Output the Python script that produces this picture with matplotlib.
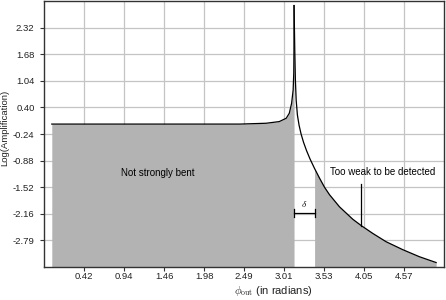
import matplotlib
matplotlib.use("Agg")
import matplotlib.pyplot as plt
import numpy as np

plt.rcParams['font.family'] = ['Liberation Sans', 'DejaVu Sans']
plt.rcParams['mathtext.fontset'] = 'cm'

# Left branch of the amplification curve (phi_out, log amplification)
left_x = [0.00, 1.27, 2.44, 2.78, 2.95, 3.04, 3.08, 3.11, 3.13, 3.138, 3.1405, 3.1416]
left_y = [0.00, 0.00, 0.00, 0.02, 0.06, 0.14, 0.26, 0.50, 0.82, 1.23, 1.78, 2.85]

# Right branch of the curve
right_x = [3.1416, 3.151, 3.159, 3.169, 3.185, 3.207, 3.233, 3.265, 3.304, 3.349,
           3.408, 3.472, 3.537, 3.602, 3.731, 3.904, 4.012, 4.163, 4.336, 4.551,
           4.767, 4.984]
right_y = [2.85, 1.78, 1.06, 0.58, 0.22, -0.03, -0.24, -0.44, -0.64, -0.84,
           -1.07, -1.30, -1.52, -1.70, -1.99, -2.29, -2.44, -2.63, -2.83, -3.02,
           -3.19, -3.33]

delta_start = 3.1416
delta_end = 3.408
marker_x = 4.012
marker_top = -1.44
marker_bottom = -2.44

x_ticklabels = ['0.42', '0.94', '1.46', '1.98', '2.49', '3.01', '3.53', '4.05', '4.57']
y_ticklabels = ['-2.79', '-2.16', '-1.52', '-0.88', '-0.24', '0.40', '1.04', '1.68', '2.32']

xlim = (-0.097, 5.09)
ylim = (-3.43, 2.96)

fig = plt.figure(figsize=(4.46, 3.0), dpi=100)
ax = fig.add_axes([44.3 / 446, 33.3 / 300, 400 / 446, 265.7 / 300])

fill_color = '#b3b3b3'
lx = np.array(left_x); ly = np.array(left_y)
rx = np.array(right_x); ry = np.array(right_y)

ax.fill_between(lx, ly, ylim[0], color=fill_color, lw=0, zorder=2)
m = rx >= delta_end
ax.fill_between(rx[m], ry[m], ylim[0], color=fill_color, lw=0, zorder=2)

ax.plot(lx, ly, color='black', lw=0.9, zorder=3)
ax.plot(rx, ry, color='black', lw=0.9, zorder=3)

# delta bracket
yb = -2.134
ax.plot([delta_start, delta_end], [yb, yb], color='black', lw=0.9, zorder=4)
ax.plot([delta_start, delta_start], [yb - 0.096, yb + 0.096], color='black', lw=0.9, zorder=4)
ax.plot([delta_end, delta_end], [yb - 0.096, yb + 0.096], color='black', lw=0.9, zorder=4)
ax.text((delta_start + delta_end) / 2, -2.04, r'$\delta$', ha='center', va='bottom',
        fontsize=7, zorder=5)

# annotation
ax.plot([marker_x, marker_x], [marker_top, marker_bottom], color='black', lw=0.9, zorder=4)
ax.text(4.286, -1.145, 'Too weak to be detected', ha='center', va='center', fontsize=7, zorder=5)
ax.text(1.378, -1.169, 'Not strongly bent', ha='center', va='center', fontsize=7, zorder=5)

ax.set_xlim(*xlim)
ax.set_ylim(*ylim)
ax.set_xticks([float(t) for t in x_ticklabels])
ax.set_xticklabels(x_ticklabels)
ax.set_yticks([float(t) for t in y_ticklabels])
ax.set_yticklabels(y_ticklabels)

ax.grid(True, color='#c4c4c4', lw=0.9, zorder=1)
ax.set_axisbelow(True)
for s in ax.spines.values():
    s.set_color('#333333')
    s.set_linewidth(1.0)
    s.set_zorder(6)

ax.tick_params(axis='both', direction='out', length=3, width=0.8, color='#333333',
               labelsize=6.8, labelcolor='#222222')
ax.tick_params(axis='x', pad=0.8)
ax.tick_params(axis='y', pad=4)

ax.set_xlabel(r'$\phi_{\rm out}$ (in radians)', fontsize=8, color='#222222')
ax.xaxis.set_label_coords((273.3 - 44.3) / 400, -(291 - 266.7) / 265.7)
ax.xaxis.label.set_verticalalignment('center')
ax.set_ylabel('Log(Amplification)', fontsize=6.8, color='#222222')
ax.yaxis.set_label_coords((4.8 - 44.3) / 400, (266.7 - 127.5) / 265.7)
ax.yaxis.label.set_verticalalignment('center')

fig.savefig('out.png', dpi=100)
